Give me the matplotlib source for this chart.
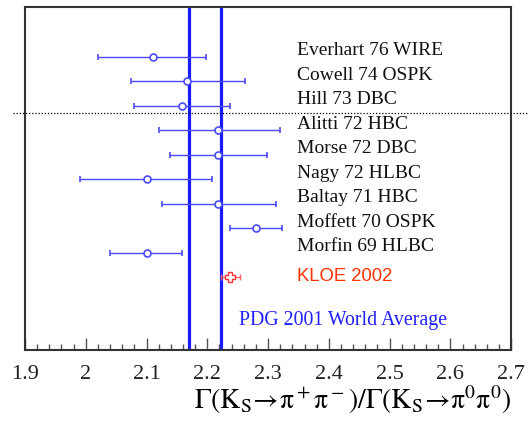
import numpy as np
import matplotlib
matplotlib.use('Agg')
import matplotlib.pyplot as plt
from matplotlib.ticker import MultipleLocator

plt.rcParams['font.family'] = ['Liberation Serif', 'DejaVu Serif']
plt.rcParams['mathtext.fontset'] = 'stix'

# measurements of Gamma(Ks->pi+pi-)/Gamma(Ks->pi0pi0)
labels = ['Everhart 76 WIRE', 'Cowell 74 OSPK', 'Hill 73 DBC', 'Alitti 72 HBC',
          'Morse 72 DBC', 'Nagy 72 HLBC', 'Baltay 71 HBC', 'Moffett 70 OSPK',
          'Morfin 69 HLBC']
values = [2.110, 2.167, 2.159, 2.218, 2.218, 2.100, 2.218, 2.280, 2.100]
err_lo = [0.090, 0.092, 0.080, 0.098, 0.079, 0.110, 0.093, 0.042, 0.060]
err_hi = [0.088, 0.095, 0.079, 0.102, 0.081, 0.108, 0.095, 0.043, 0.059]

kloe_label = 'KLOE 2002'
kloe_value = 2.238
kloe_err = 0.016

pdg_label = 'PDG 2001 World Average'
pdg_band = [2.170, 2.223]

xticks = [1.9, 2.0, 2.1, 2.2, 2.3, 2.4, 2.5, 2.6, 2.7]
xticklabels = ['1.9', '2', '2.1', '2.2', '2.3', '2.4', '2.5', '2.6', '2.7']

fig = plt.figure(figsize=(5.29, 4.23), dpi=100)
ax = fig.add_axes([0.0473, 0.1726, 0.919, 0.811])

rows = np.arange(len(labels))
blue = '#4a4aff'
ax.errorbar(values, rows, xerr=[err_lo, err_hi], fmt='o', color=blue,
            mfc='white', mec=blue, ms=5, mew=1.2, elinewidth=1.0,
            capsize=2.5, capthick=1.0, zorder=3)
for r, lab in zip(rows, labels):
    ax.text(2.348, r - 0.25, lab, fontsize=14, va='center', ha='left',
            color='#111111')

krow = len(labels)
ax.errorbar([kloe_value], [krow], xerr=[kloe_err], fmt='P', color='#ff6060',
            mfc='white', mec='#ff3030', ms=6.5, mew=1.0, elinewidth=1.0,
            capsize=2.5, zorder=4)
ax.text(2.347, krow - 0.05, kloe_label, fontsize=13.3, color='#ff3300',
        family=['Liberation Sans', 'DejaVu Sans'], va='center', ha='left')

for xv in pdg_band:
    ax.axvline(xv, color='#1a1aff', lw=2.3, zorder=2)
ax.text(2.252, krow + 1.75, pdg_label, fontsize=14.3, color='#2020ff',
        va='center', ha='left')

# dotted separator running past the frame
ax.axhline(2.29, xmin=-0.025, xmax=1.04, color='black', ls=(0, (1, 1.5)),
           lw=0.9, clip_on=False, zorder=5)

ax.set_xlim(1.9, 2.7)
ax.set_ylim(11.96, -2.04)
ax.set_yticks([])
ax.set_xticks(xticks)
ax.set_xticklabels(xticklabels, fontsize=16, color='#222222')
ax.xaxis.set_minor_locator(MultipleLocator(0.02))
ax.tick_params(axis='x', which='major', direction='in', length=9, width=1,
               pad=11, color='#555555')
ax.tick_params(axis='x', which='minor', direction='in', length=4, width=1,
               color='#555555')
for sp in ax.spines.values():
    sp.set_linewidth(1.5)
    sp.set_color('#333333')

ax.set_xlabel(r'$\mathrm{Γ(K_S}\!\rightarrow\!\mathrm{π^+π^-)/Γ(K_S}\!\rightarrow\!\mathrm{π^0π^0)}$',
              fontsize=20, loc='right', labelpad=-1)

fig.savefig('out.png', dpi=100)
